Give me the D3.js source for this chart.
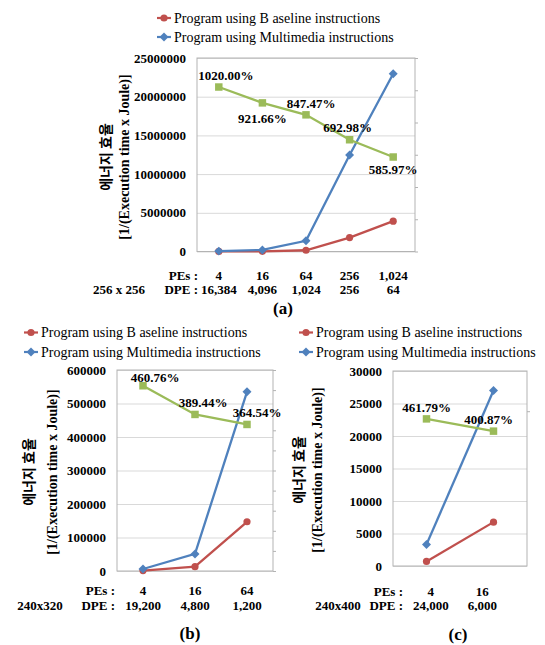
<!DOCTYPE html>
<html>
<head>
<meta charset="utf-8">
<title>에너지 효율</title>
<script src="https://d3js.org/d3.v7.min.js"></script>
<style>
	body { margin: 0; background: #fff; }
	text { font-family: "Liberation Serif", "Times New Roman", serif; fill: #000; }
	.bold { font-weight: bold; }
	.kr { font-family: "Noto Sans CJK KR", sans-serif; font-weight: bold; }
</style>
</head>
<body>
<div id="plot"></div>
<script>
	// legend names (the gap in "B aseline" is in the original)
	var legendNames = ["Program using B aseline instructions", "Program using Multimedia instructions"];

	// (a) 256 x 256
	var peA = ["4", "16", "64", "256", "1,024"];
	var dpeA = ["16,384", "4,096", "1,024", "256", "64"];
	var baseA = [4900, 21700, 163000, 1800000, 3920000];
	var mediaA = [50000, 200000, 1380000, 12460000, 22970000];
	var gainA = [1020.00, 921.66, 847.47, 692.98, 585.97];
	var yTicksA = [0, 5000000, 10000000, 15000000, 20000000, 25000000];
	var gainTicksA = [0, 200, 400, 600, 800, 1000, 1200];

	// (b) 240x320
	var peB = ["4", "16", "64"];
	var dpeB = ["19,200", "4,800", "1,200"];
	var baseB = [1300, 13000, 147000];
	var mediaB = [6000, 51000, 535000];
	var gainB = [460.76, 389.44, 364.54];
	var yTicksB = [0, 100000, 200000, 300000, 400000, 500000, 600000];
	var gainTicksB = [0, 50, 100, 150, 200, 250, 300, 350, 400, 450, 500];

	// (c) 240x400
	var peC = ["4", "16"];
	var dpeC = ["24,000", "6,000"];
	var baseC = [700, 6750];
	var mediaC = [3300, 27000];
	var gainC = [461.79, 400.87];
	var yTicksC = [0, 5000, 10000, 15000, 20000, 25000, 30000];
	var gainTicksC = [500];

	var red = "#C0504D", blue = "#4F81BD", green = "#9BBB59";

	var svg = d3.select("#plot").append("svg")
		.attr("width", 545)
		.attr("height", 645);

	var charts = [
		{ pe: peA, dpe: dpeA, base: baseA, media: mediaA, gain: gainA, yTicks: yTicksA,
		  gainTicks: gainTicksA, gainDomain: [0, 1200], size: "256 x 256", caption: "(a)",
		  left: 197, top: 58, w: 218, h: 193.5, peRight: 198, rows: [275.5, 289], sizeX: 119,
		  krX: 105, brX: 124, titleY: 157, legX: 157, legY: [18, 37], capX: 283, capY: 308,
		  labelOff: [[7, -12], [0, 16], [5, -11], [-2, -12], [0, 12]] },
		{ pe: peB, dpe: dpeB, base: baseB, media: mediaB, gain: gainB, yTicks: yTicksB,
		  gainTicks: gainTicksB, gainDomain: [0, 500], size: "240x320", caption: "(b)",
		  left: 117, top: 370, w: 156, h: 201, peRight: 115, rows: [590, 605], sizeX: 40,
		  krX: 28, brX: 52, titleY: 472, legX: 24, legY: [332.5, 352], capX: 190, capY: 633,
		  labelOff: [[12, -8], [8, -12], [10, -12]] },
		{ pe: peC, dpe: dpeC, base: baseC, media: mediaC, gain: gainC, yTicks: yTicksC,
		  gainTicks: gainTicksC, gainDomain: [-270, 700], size: "240x400", caption: "(c)",
		  left: 393, top: 371, w: 134, h: 195, peRight: 403, rows: [591, 605], sizeX: 338,
		  labRange: [405, 508],
		  krX: 297.5, brX: 317.5, titleY: 470, legX: 299, legY: [332.5, 352], capX: 458, capY: 634,
		  labelOff: [[0, -11], [-5, -12]] }
	];

	var diamond = d3.symbol().type(d3.symbolSquare).size(40);
	var square = d3.symbol().type(d3.symbolSquare).size(56);

	function marker(g, kind, px, py) {
		if (kind == 0) {
			g.append("circle").attr("cx", px).attr("cy", py).attr("r", 3.6).attr("fill", red);
		} else {
			g.append("path").attr("d", diamond)
				.attr("transform", "translate(" + px + "," + py + ") rotate(45)")
				.attr("fill", blue);
		}
	}

	function drawChart(c) {
		var g = svg.append("g");
		var x = d3.scaleBand().domain(d3.range(c.pe.length)).range([c.left, c.left + c.w]);
		var cx = function(i) { return x(i) + x.bandwidth() / 2; };
		// category text sits on its own band in (c)
		var xl = d3.scaleBand().domain(d3.range(c.pe.length)).range(c.labRange || [c.left, c.left + c.w]);
		var lx = function(i) { return xl(i) + xl.bandwidth() / 2; };
		var y = d3.scaleLinear().domain([0, d3.max(c.yTicks)]).range([c.top + c.h, c.top]);
		var y2 = d3.scaleLinear().domain(c.gainDomain).range([c.top + c.h, c.top]);

		// gridlines + left tick labels
		g.append("g")
			.attr("transform", "translate(" + c.left + ",0)")
			.call(d3.axisLeft(y).tickValues(c.yTicks).tickSize(-c.w).tickPadding(11).tickFormat(d3.format("d")))
			.call(function(a) {
				a.attr("font-family", null).attr("font-size", 13);
				a.select(".domain").remove();
				a.selectAll(".tick line").attr("stroke", "#d9d9d9");
				a.selectAll(".tick text").attr("class", "bold").attr("fill", "#000");
			});

		// plot frame
		g.append("rect")
			.attr("x", c.left).attr("y", c.top)
			.attr("width", c.w).attr("height", c.h)
			.attr("fill", "none").attr("stroke", "#b3b3b3");

		// secondary axis ticks (no labels)
		g.append("g")
			.attr("transform", "translate(" + (c.left + c.w) + ",0)")
			.call(d3.axisRight(y2).tickValues(c.gainTicks).tickSize(3).tickFormat(""))
			.call(function(a) {
				a.select(".domain").remove();
				a.selectAll(".tick line").attr("stroke", "#b3b3b3");
			});

		var line = d3.line().x(function(d, i) { return cx(i); });

		// baseline (red)
		g.append("path").datum(c.base)
			.attr("d", line.y(function(d) { return y(d); }))
			.attr("fill", "none").attr("stroke", red).attr("stroke-width", 2.3);
		c.base.forEach(function(d, i) { marker(g, 0, cx(i), y(d)); });

		// multimedia (blue)
		g.append("path").datum(c.media)
			.attr("d", line.y(function(d) { return y(d); }))
			.attr("fill", "none").attr("stroke", blue).attr("stroke-width", 2.3);
		c.media.forEach(function(d, i) { marker(g, 1, cx(i), y(d)); });

		// improvement (green, secondary axis)
		g.append("path").datum(c.gain)
			.attr("d", line.y(function(d) { return y2(d); }))
			.attr("fill", "none").attr("stroke", green).attr("stroke-width", 2.3);
		g.selectAll(null).data(c.gain).enter().append("path")
			.attr("d", square)
			.attr("transform", function(d, i) { return "translate(" + cx(i) + "," + y2(d) + ")"; })
			.attr("fill", green);

		g.selectAll(null).data(c.gain).enter().append("text")
			.attr("class", "bold")
			.attr("font-size", 13)
			.attr("text-anchor", "middle")
			.attr("dominant-baseline", "central")
			.attr("x", function(d, i) { return cx(i) + c.labelOff[i][0]; })
			.attr("y", function(d, i) { return y2(d) + c.labelOff[i][1]; })
			.text(function(d) { return d3.format(".2f")(d) + "%"; });

		// x labels
		var rowNames = ["PEs :", "DPE :"];
		[c.pe, c.dpe].forEach(function(arr, r) {
			g.append("text").attr("class", "bold").attr("font-size", 13)
				.attr("text-anchor", "end").attr("dominant-baseline", "central")
				.attr("x", c.peRight).attr("y", c.rows[r]).text(rowNames[r]);
			g.selectAll(null).data(arr).enter().append("text")
				.attr("class", "bold").attr("font-size", 13)
				.attr("text-anchor", "middle").attr("dominant-baseline", "central")
				.attr("x", function(d, i) { return lx(i); })
				.attr("y", c.rows[r])
				.text(function(d) { return d; });
		});
		g.append("text").attr("class", "bold").attr("font-size", 13)
			.attr("text-anchor", "middle").attr("dominant-baseline", "central")
			.attr("x", c.sizeX).attr("y", c.rows[1]).text(c.size);

		// y axis title
		g.append("text").attr("class", "kr").attr("font-size", 14)
			.attr("text-anchor", "middle").attr("dominant-baseline", "central")
			.attr("transform", "translate(" + c.krX + "," + c.titleY + ") rotate(-90)")
			.text("에너지 효율");
		g.append("text").attr("class", "bold").attr("font-size", 14)
			.attr("text-anchor", "middle").attr("dominant-baseline", "central")
			.attr("transform", "translate(" + c.brX + "," + c.titleY + ") rotate(-90)")
			.text("[1/(Execution time x Joule)]");

		// legend
		legendNames.forEach(function(name, k) {
			var ly = c.legY[k];
			g.append("line")
				.attr("x1", c.legX).attr("x2", c.legX + 14)
				.attr("y1", ly).attr("y2", ly)
				.attr("stroke", k == 0 ? red : blue).attr("stroke-width", 2.2);
			marker(g, k, c.legX + 7, ly);
			g.append("text").attr("font-size", 14)
				.attr("dominant-baseline", "central")
				.attr("x", c.legX + 17).attr("y", ly)
				.text(name);
		});

		// caption
		g.append("text").attr("class", "bold").attr("font-size", 17)
			.attr("text-anchor", "middle").attr("dominant-baseline", "central")
			.attr("x", c.capX).attr("y", c.capY).text(c.caption);
	}

	charts.forEach(drawChart);
</script>
</body>
</html>
